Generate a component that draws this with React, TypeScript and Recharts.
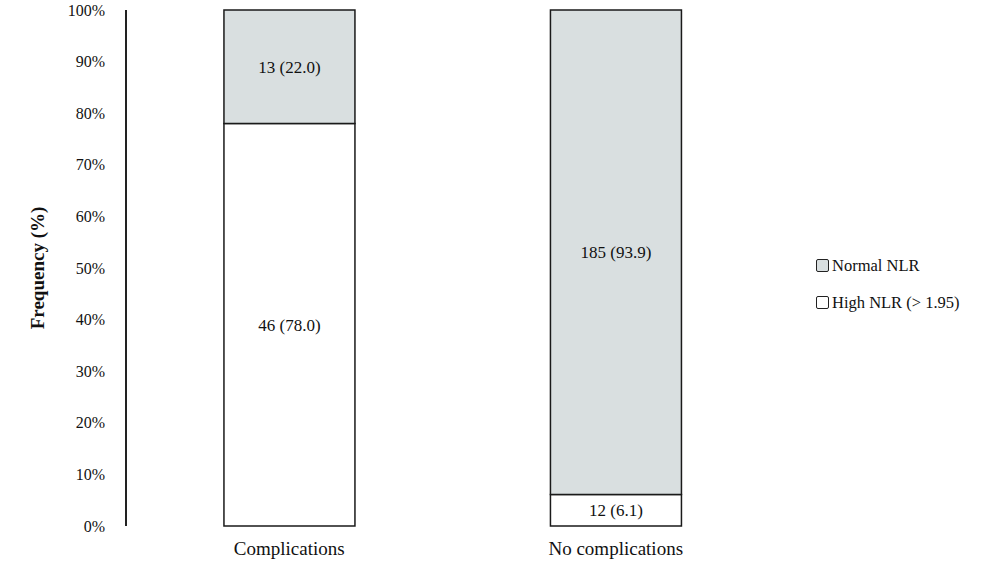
import React from 'react';
import { BarChart, Bar, XAxis, YAxis, LabelList } from 'recharts';

const groups = ['Complications', 'No complications'];
const highNlrPct = [78.0, 6.1];
const normalNlrPct = [22.0, 93.9];
const highNlrCount = [46, 12];
const normalNlrCount = [13, 185];
const yTicks = [0, 10, 20, 30, 40, 50, 60, 70, 80, 90, 100];

const GREY = '#d9dfe0';
const FONT = '"Liberation Serif", "DejaVu Serif", serif';

const rows = groups.map((g, i) => ({
  group: g,
  high: highNlrPct[i],
  normal: normalNlrPct[i],
  highLabel: `${highNlrCount[i]} (${highNlrPct[i].toFixed(1)})`,
  normalLabel: `${normalNlrCount[i]} (${normalNlrPct[i].toFixed(1)})`,
}));

const legendItems = [
  { name: 'Normal NLR', fill: GREY },
  { name: 'High NLR (> 1.95)', fill: '#fff' },
];

const LegendBox = () => (
  <div
    style={{
      position: 'absolute',
      left: 816,
      top: 247,
      fontFamily: FONT,
      fontSize: 16.5,
      color: '#111',
    }}
  >
    {legendItems.map((it) => (
      <div key={it.name} style={{ display: 'flex', alignItems: 'center', height: 37 }}>
        <span
          style={{
            display: 'inline-block',
            width: 11,
            height: 11,
            border: '1.5px solid #222',
            borderRadius: 2,
            background: it.fill,
            marginRight: 3,
          }}
        />
        <span>{it.name}</span>
      </div>
    ))}
  </div>
);

export default function App() {
  return (
    <div style={{ position: 'absolute', left: 0, top: 0, width: 1000, height: 569, background: '#fff' }}>
      <BarChart
        width={1000}
        height={569}
        data={rows}
        margin={{ top: 10, right: 221, bottom: 13, left: 0 }}
        barCategoryGap="30%"
      >
        <XAxis
          dataKey="group"
          height={30}
          axisLine={false}
          tickLine={false}
          tickMargin={10}
          tick={{ fontFamily: FONT, fontSize: 19, fill: '#111' }}
        />
        <YAxis
          width={126}
          domain={[0, 100]}
          ticks={yTicks}
          tickFormatter={(v) => `${v}%`}
          tickLine={false}
          tickMargin={15}
          axisLine={{ stroke: '#222', strokeWidth: 2 }}
          tick={{ fontFamily: FONT, fontSize: 16, fill: '#111' }}
          label={{
            value: 'Frequency (%)',
            angle: -90,
            position: 'insideLeft',
            offset: 37,
            style: { fontFamily: FONT, fontSize: 19, fontWeight: 'bold', fill: '#111', textAnchor: 'middle' },
          }}
        />
        <Bar dataKey="high" stackId="s" fill="#fff" stroke="#1a1a1a" strokeWidth={1.5} isAnimationActive={false}>
          <LabelList
            dataKey="highLabel"
            position="center"
            style={{ fontFamily: FONT, fontSize: 17, fill: '#111' }}
          />
        </Bar>
        <Bar dataKey="normal" stackId="s" fill={GREY} stroke="#1a1a1a" strokeWidth={1.5} isAnimationActive={false}>
          <LabelList
            dataKey="normalLabel"
            position="center"
            style={{ fontFamily: FONT, fontSize: 17, fill: '#111' }}
          />
        </Bar>
      </BarChart>
      <LegendBox />
    </div>
  );
}
